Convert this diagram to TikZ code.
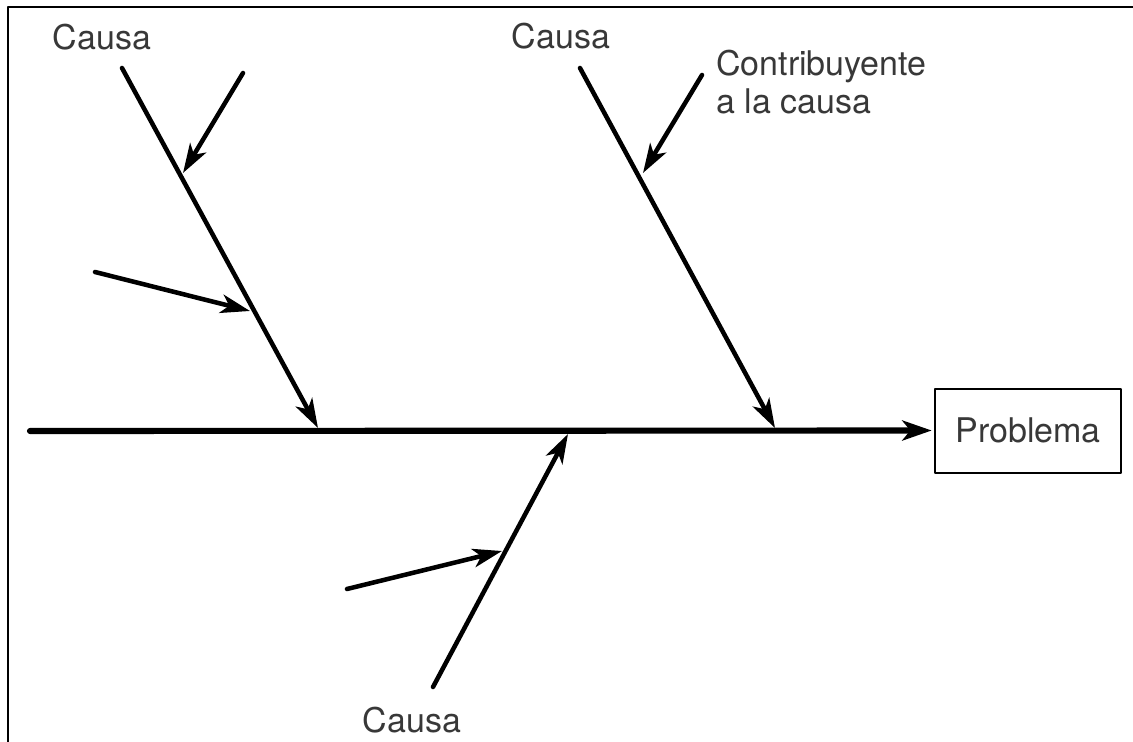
\documentclass[tikz,border=0pt]{standalone}
\usepackage{fontspec}
\setmainfont{TeX Gyre Heros}
\usetikzlibrary{arrows.meta}
\begin{document}
\begin{tikzpicture}[x=.75pt,y=-.75pt,line join=round,line cap=round,
	font=\fontsize{25.5}{28.5}\selectfont,
	>={Stealth[length=22pt,width=14pt,inset=6pt]},
	bone/.style={line width=3.4pt,->},
	spine/.style={line width=4.6pt,-{Stealth[length=22pt,width=15pt,inset=6pt]}},
	lbl/.style={text=black!78,inner sep=0pt}]
	\useasboundingbox (0,0) rectangle (1133,742);
	\draw[line width=1.8pt,line cap=butt] (8,742)--(8,7)--(1133,7);
	
	\node[draw,line width=1.5pt,minimum width=139pt,minimum height=63pt,text=black!78] (prob) at (1028,430.5) {Problema};
	\coordinate (tail) at (30,431);
	\draw[spine,shorten >=2pt] (tail)--(prob.west);
	
	\foreach \m/\x/\y in {a1/122/68,a2/318/428,b1/580/68,b2/775/428,c1/433/687,c2/568/434,
		p1/243/73,p2/183/173,q1/95/272,q2/250/311,r1/702/75,r2/643/173,s1/347/589,s2/502/551}
	\coordinate (\m) at (\x,\y);
	\foreach \i in {a,b,c,p,q,r,s}
	\draw[bone] (\i1)--(\i2);
	
	\node[lbl,anchor=base] (causaA) at (102,50) {Causa};
	\node[lbl,anchor=base] (causaB) at (561,49) {Causa};
	\node[lbl,anchor=base] (causaC) at (412,732) {Causa};
	\node[lbl,anchor=north west,align=left] (contrib) at (716,50) {Contribuyente\\a la causa};
\end{tikzpicture}
\end{document}
